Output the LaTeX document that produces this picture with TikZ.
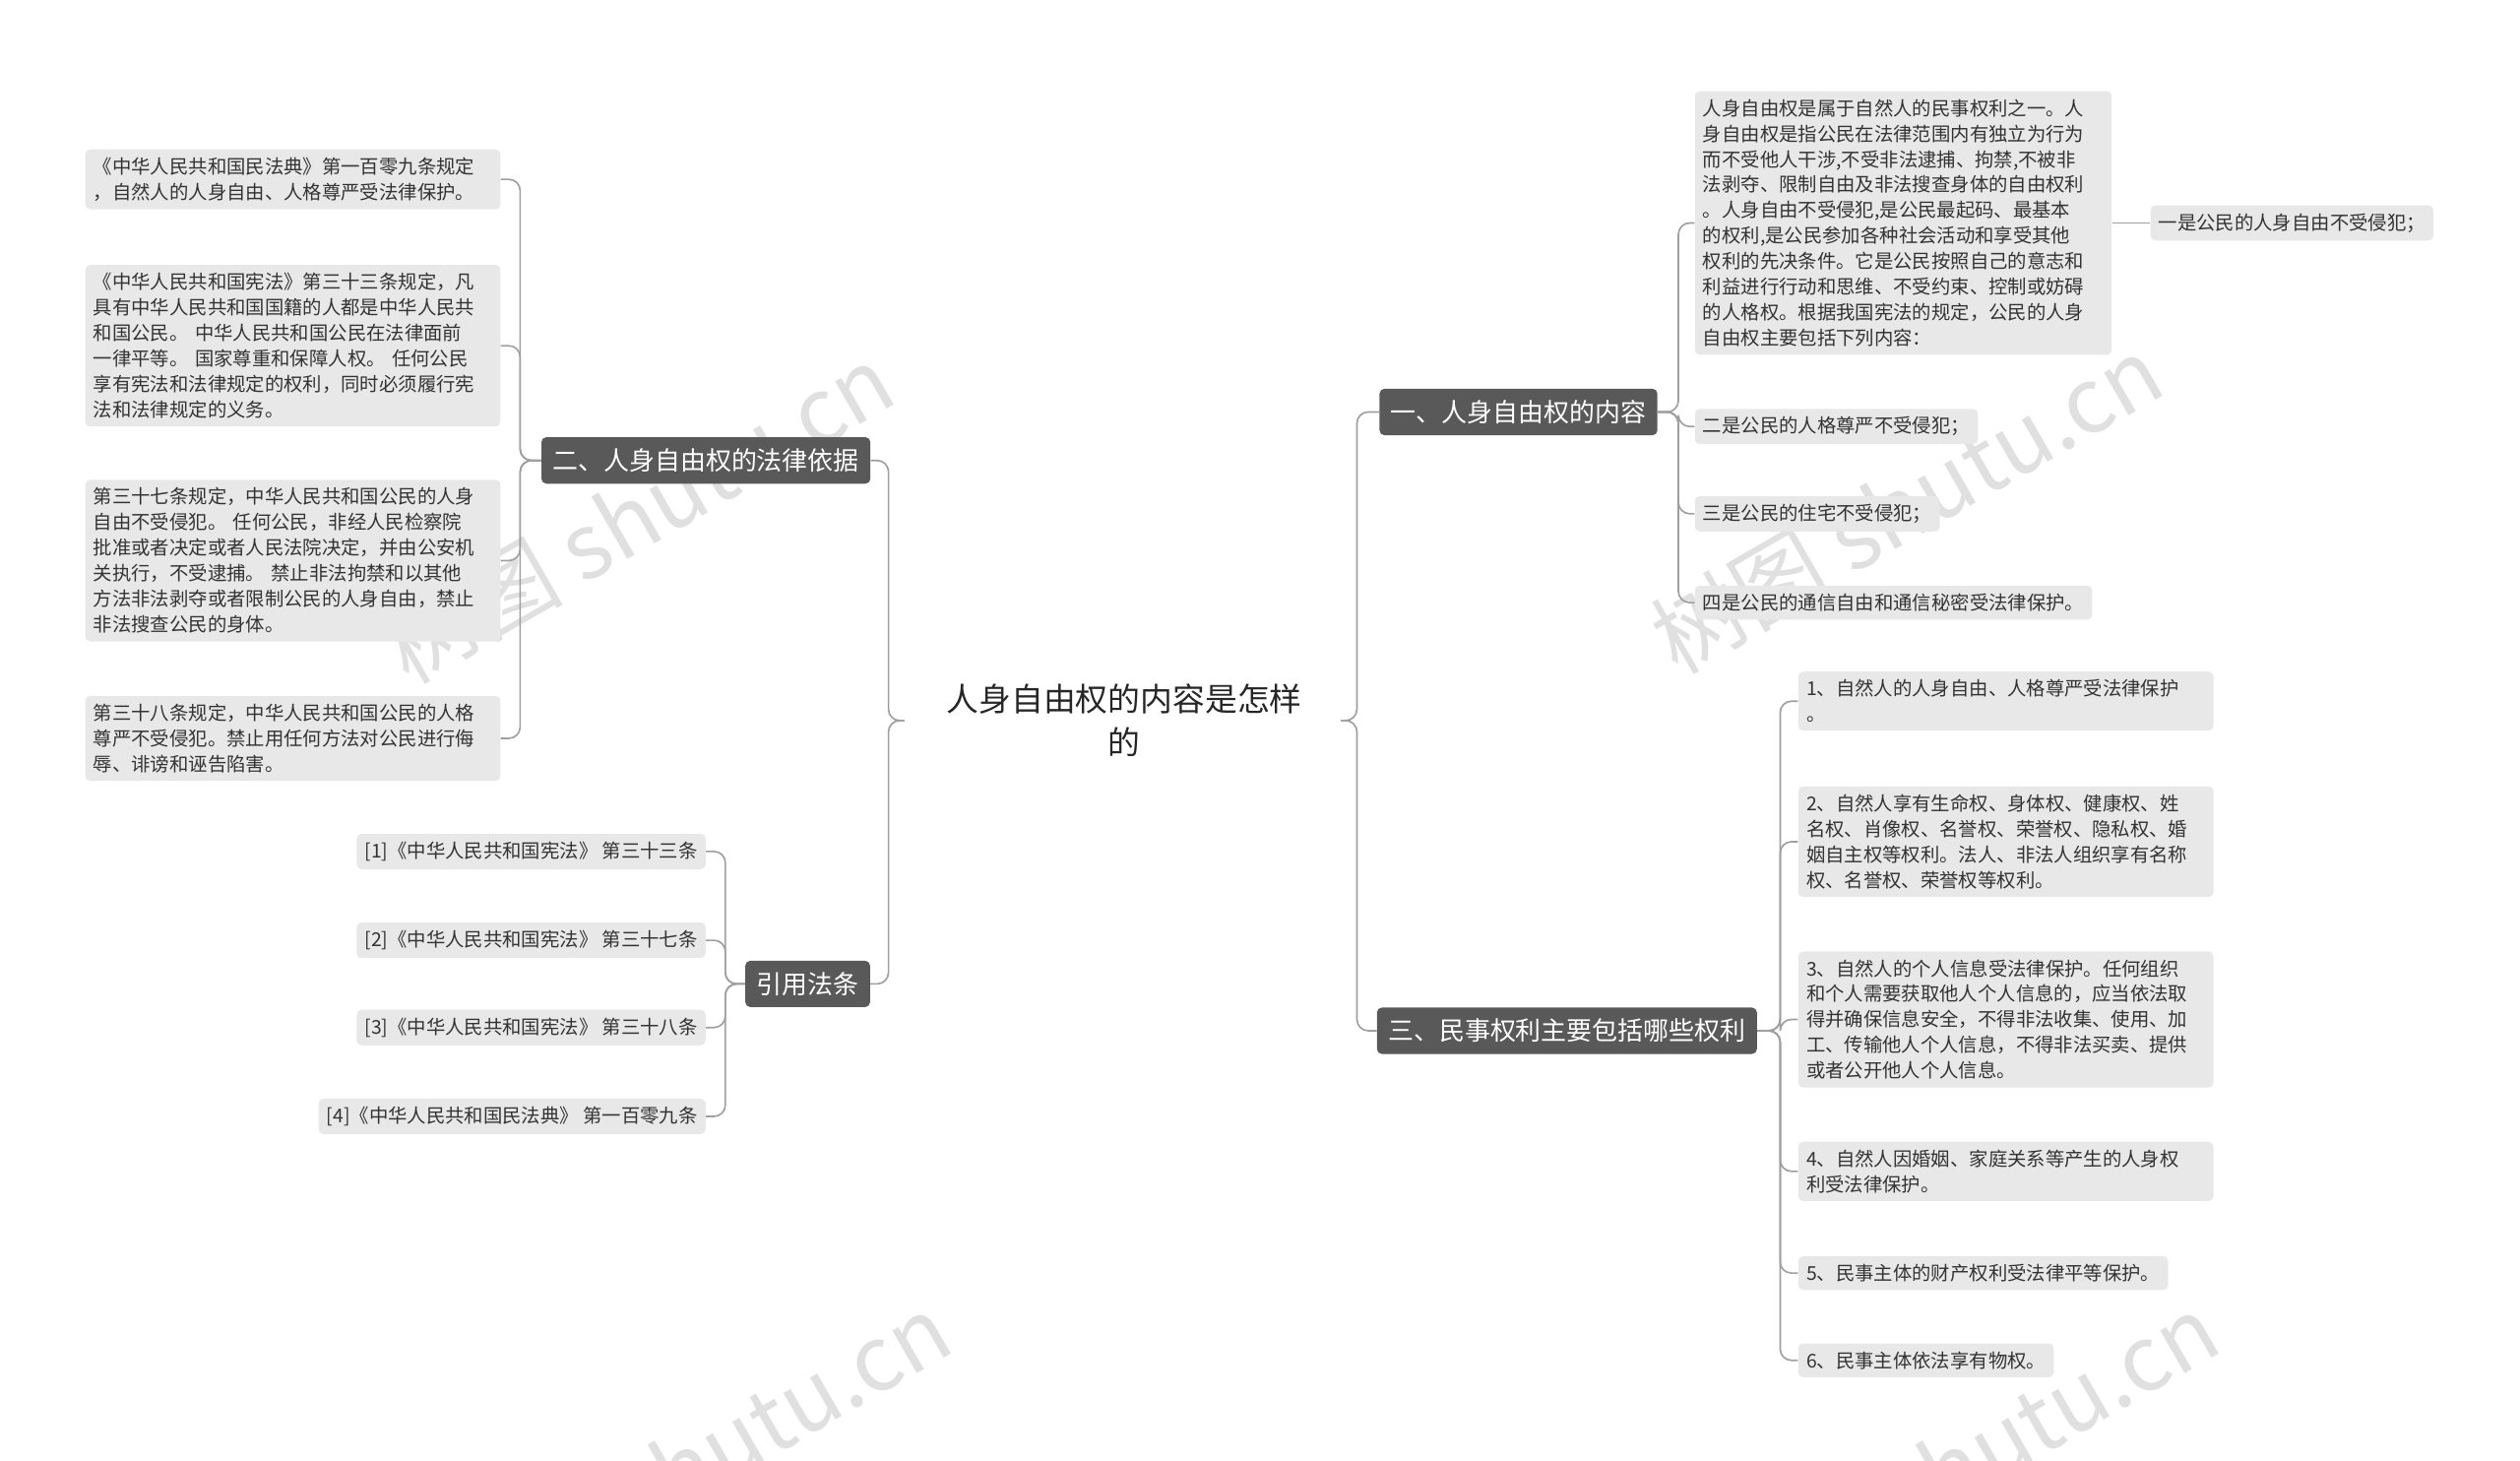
\documentclass[tikz,border=0pt]{standalone}
\usepackage{fontspec}
\setmainfont{Noto Sans CJK SC}
\begin{document}
\begin{tikzpicture}[x=1pt,y=-1pt,
  conn/.style={draw=gray!75,line width=1pt,rounded corners=7pt},
  dark/.style={fill=black!65,text=white,rounded corners=3pt,inner xsep=7pt,inner ysep=7pt,font=\fontsize{15.8}{18}\selectfont},
  leaf/.style={fill=black!9,text=black!80,rounded corners=3pt,inner xsep=5pt,inner ysep=5pt,align=left,font=\fontsize{11.8}{15.8}\selectfont},
  wm/.style={text=black!12,rotate=30,font=\fontsize{56}{56}\selectfont}]
\useasboundingbox (0,0) rectangle (1560,904);
\begin{scope}
\clip (0,0) rectangle (1560,904);
\node[wm] (w1) at (395,318) {树图 shutu.cn};
\node[wm] (w2) at (1180,312) {树图 shutu.cn};
\node[wm] (w3) at (430,905) {树图 shutu.cn};
\node[wm] (w4) at (1215,905) {树图 shutu.cn};
\end{scope}
% center
\node[align=center,font=\fontsize{20}{27}\selectfont,text=black!85] (c) at (696,446) {人身自由权的内容是怎样\\的};
\coordinate (cR) at (830,446);
\coordinate (cL) at (560,446);
% dark nodes
\node[dark] (n1) at (940,255) {一、人身自由权的内容};
\node[dark] (n3) at (970,638) {三、民事权利主要包括哪些权利};
\node[dark] (n2) at (437,285) {二、人身自由权的法律依据};
\node[dark] (n4) at (500,609) {引用法条};
\coordinate (vR) at (840,0);
\coordinate (vL) at (550,0);
\draw[conn] (cR) -- (vR |- cR) |- (n1.west);
\draw[conn] (cR) -- (vR |- cR) |- (n3.west);
\draw[conn] (cL) -- (vL |- cL) |- (n2.east);
\draw[conn] (cL) -- (vL |- cL) |- (n4.east);
% n1 leaves
\node[leaf,anchor=west,text width=248pt] (a) at (1049,138) {人身自由权是属于自然人的民事权利之一。人\\身自由权是指公民在法律范围内有独立为行为\\而不受他人干涉,不受非法逮捕、拘禁,不被非\\法剥夺、限制自由及非法搜查身体的自由权利\\。人身自由不受侵犯,是公民最起码、最基本\\的权利,是公民参加各种社会活动和享受其他\\权利的先决条件。它是公民按照自己的意志和\\利益进行行动和思维、不受约束、控制或妨碍\\的人格权。根据我国宪法的规定，公民的人身\\自由权主要包括下列内容：};
\node[leaf,anchor=west] (b) at (1049,264) {二是公民的人格尊严不受侵犯；};
\node[leaf,anchor=west] (cc) at (1049,318) {三是公民的住宅不受侵犯；};
\node[leaf,anchor=west] (d) at (1049,373) {四是公民的通信自由和通信秘密受法律保护。};
\node[leaf,anchor=west] (a1) at (1331,138) {一是公民的人身自由不受侵犯；};
\coordinate (v1) at (1039,0);
\foreach \t in {a,b,cc,d} \draw[conn] (n1.east) -- (v1 |- n1.east) |- (\t.west);
\draw[conn] (a.east) -- (a1.west);
% n3 leaves
\coordinate (v3) at (1102,0);
\node[leaf,anchor=west,text width=247pt] (r1) at (1113,434) {1、自然人的人身自由、人格尊严受法律保护\\。};
\node[leaf,anchor=west,text width=247pt] (r2) at (1113,521) {2、自然人享有生命权、身体权、健康权、姓\\名权、肖像权、名誉权、荣誉权、隐私权、婚\\姻自主权等权利。法人、非法人组织享有名称\\权、名誉权、荣誉权等权利。};
\node[leaf,anchor=west,text width=247pt] (r3) at (1113,631) {3、自然人的个人信息受法律保护。任何组织\\和个人需要获取他人个人信息的，应当依法取\\得并确保信息安全，不得非法收集、使用、加\\工、传输他人个人信息，不得非法买卖、提供\\或者公开他人个人信息。};
\node[leaf,anchor=west,text width=247pt] (r4) at (1113,725) {4、自然人因婚姻、家庭关系等产生的人身权\\利受法律保护。};
\node[leaf,anchor=west] (r5) at (1113,788) {5、民事主体的财产权利受法律平等保护。};
\node[leaf,anchor=west] (r6) at (1113,842) {6、民事主体依法享有物权。};
\foreach \t in {r1,r2,r3,r4,r5,r6} \draw[conn] (n3.east) -- (v3 |- n3.east) |- (\t.west);
% n2 leaves
\coordinate (v2) at (322,0);
\node[leaf,anchor=east,text width=247pt] (l1) at (310,111) {《中华人民共和国民法典》第一百零九条规定\\，自然人的人身自由、人格尊严受法律保护。};
\node[leaf,anchor=east,text width=247pt] (l2) at (310,214) {《中华人民共和国宪法》第三十三条规定，凡\\具有中华人民共和国国籍的人都是中华人民共\\和国公民。 中华人民共和国公民在法律面前\\一律平等。 国家尊重和保障人权。 任何公民\\享有宪法和法律规定的权利，同时必须履行宪\\法和法律规定的义务。};
\node[leaf,anchor=east,text width=247pt] (l3) at (310,347) {第三十七条规定，中华人民共和国公民的人身\\自由不受侵犯。 任何公民，非经人民检察院\\批准或者决定或者人民法院决定，并由公安机\\关执行，不受逮捕。 禁止非法拘禁和以其他\\方法非法剥夺或者限制公民的人身自由，禁止\\非法搜查公民的身体。};
\node[leaf,anchor=east,text width=247pt] (l4) at (310,457) {第三十八条规定，中华人民共和国公民的人格\\尊严不受侵犯。禁止用任何方法对公民进行侮\\辱、诽谤和诬告陷害。};
\foreach \t in {l1,l2,l3,l4} \draw[conn] (n2.west) -- (v2 |- n2.west) |- (\t.east);
% n4 leaves
\coordinate (v4) at (449,0);
\node[leaf,anchor=east] (f1) at (437,527) {[1]《中华人民共和国宪法》 第三十三条};
\node[leaf,anchor=east] (f2) at (437,582) {[2]《中华人民共和国宪法》 第三十七条};
\node[leaf,anchor=east] (f3) at (437,636) {[3]《中华人民共和国宪法》 第三十八条};
\node[leaf,anchor=east] (f4) at (437,691) {[4]《中华人民共和国民法典》 第一百零九条};
\foreach \t in {f1,f2,f3,f4} \draw[conn] (n4.west) -- (v4 |- n4.west) |- (\t.east);
\end{tikzpicture}
\end{document}
